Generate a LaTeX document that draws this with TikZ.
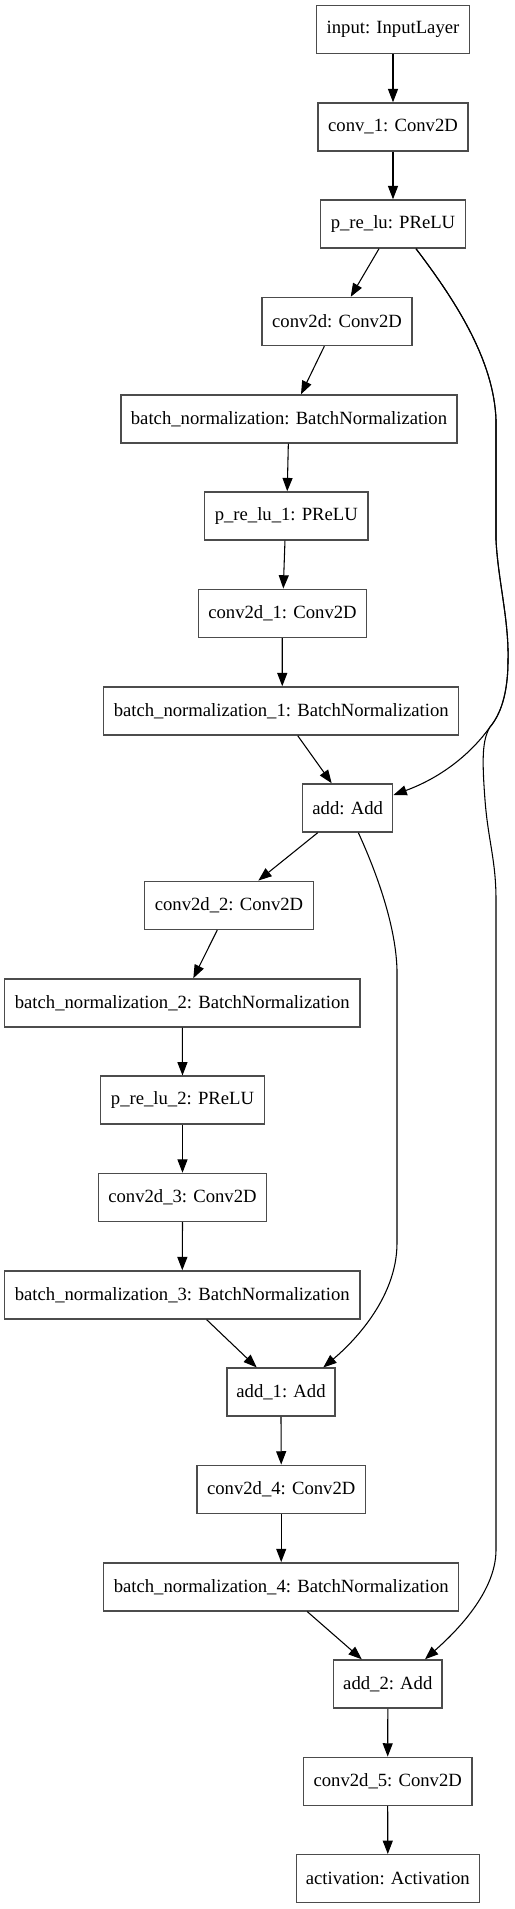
\documentclass[tikz,border=0pt]{standalone}
\usepackage{fontspec}
\setmainfont{Liberation Serif}
\usetikzlibrary{arrows.meta}
\begin{document}
\begin{tikzpicture}[x=0.75pt,y=-0.75pt,
  layer/.style={draw=black!70, line width=1.1pt, minimum height=36pt, inner xsep=4pt, inner ysep=0pt, fill=white, font=\fontsize{14pt}{16pt}\selectfont},
  conn/.style={draw=black, line width=0.8pt, -{Triangle[length=10pt,width=7.5pt]}}]
\useasboundingbox (0,0) rectangle (514,1909);
\node[layer, minimum width=114.5pt] (in) at (393,29.5) {input: InputLayer};
\node[layer, minimum width=112.3pt] (c1) at (393,127) {conv\_1: Conv2D};
\node[layer, minimum width=108.5pt] (pr) at (393,224) {p\_re\_lu: PReLU};
\node[layer, minimum width=112.3pt] (cd) at (337,321.5) {conv2d: Conv2D};
\node[layer, minimum width=252pt] (bn) at (289,419) {batch\_normalization: BatchNormalization};
\node[layer, minimum width=122.5pt] (pr1) at (286.3,516) {p\_re\_lu\_1: PReLU};
\node[layer, minimum width=126.3pt] (cd1) at (282.5,613.3) {conv2d\_1: Conv2D};
\node[layer, minimum width=266.3pt] (bn1) at (281.2,711) {batch\_normalization\_1: BatchNormalization};
\node[layer, minimum width=67.5pt] (ad) at (347.7,808) {add: Add};
\node[layer, minimum width=126.5pt] (cd2) at (229,905.3) {conv2d\_2: Conv2D};
\node[layer, minimum width=266.5pt] (bn2) at (182.3,1003) {batch\_normalization\_2: BatchNormalization};
\node[layer, minimum width=122.7pt] (pr2) at (182.5,1100.2) {p\_re\_lu\_2: PReLU};
\node[layer, minimum width=126.3pt] (cd3) at (182.5,1197.5) {conv2d\_3: Conv2D};
\node[layer, minimum width=266.5pt] (bn3) at (182.3,1295) {batch\_normalization\_3: BatchNormalization};
\node[layer, minimum width=81pt] (ad1) at (281,1392.2) {add\_1: Add};
\node[layer, minimum width=126.2pt] (cd4) at (281.2,1489.3) {conv2d\_4: Conv2D};
\node[layer, minimum width=266.3pt] (bn4) at (281.2,1586.8) {batch\_normalization\_4: BatchNormalization};
\node[layer, minimum width=81.2pt] (ad2) at (387.8,1684) {add\_2: Add};
\node[layer, minimum width=126.5pt] (cd5) at (387.7,1781.3) {conv2d\_5: Conv2D};
\node[layer, minimum width=137.3pt] (act) at (387.8,1878.7) {activation: Activation};

\draw[conn] (in.south) -- (c1.north);
\draw[conn] (c1.south) -- (pr.north);
\draw[conn] ([xshift=-10.5pt]pr.south) -- ([xshift=10.3pt]cd.north);
\draw[conn] ([xshift=-9.5pt]cd.south) -- ([xshift=9pt]bn.north);
\draw[conn] ([xshift=-0.5pt]bn.south) -- ([xshift=0.7pt]pr1.north);
\draw[conn] ([xshift=-1pt]pr1.south) -- ([xshift=0.6pt]cd1.north);
\draw[conn] ([xshift=-0.2pt]cd1.south) -- ([xshift=0.8pt]bn1.north);
\draw[conn] ([xshift=12.4pt]bn1.south) -- ([xshift=-12pt]ad.north);
\draw[conn] ([xshift=-22.5pt]ad.south) -- ([xshift=22pt]cd2.north);
\draw[conn] ([xshift=-8.8pt]cd2.south) -- ([xshift=8.25pt]bn2.north);
\draw[conn] (bn2.south) -- (pr2.north);
\draw[conn] (pr2.south) -- (cd3.north);
\draw[conn] (cd3.south) -- (bn3.north);
\draw[conn] ([xshift=18.3pt]bn3.south) -- ([xshift=-18.2pt]ad1.north);
\draw[conn] (ad1.south) -- (cd4.north);
\draw[conn] (cd4.south) -- (bn4.north);
\draw[conn] ([xshift=19.5pt]bn4.south) -- ([xshift=-19.5pt]ad2.north);
\draw[conn] (ad2.south) -- (cd5.north);
\draw[conn] (cd5.south) -- (act.north);

% skip p_re_lu -> add
\draw[conn] ([xshift=17.25pt]pr.south) .. controls (455,300) and (494,360) .. (496,420)
  -- (496,540) .. controls (498,580) and (509,620) .. (508,660)
  .. controls (508,695) and (500,715) .. (490,727)
  .. controls (470,755) and (440,778) .. ([yshift=9.75pt]ad.east);
% skip p_re_lu -> add_2
\draw[conn] ([xshift=17.25pt]pr.south) .. controls (455,300) and (494,360) .. (496,420)
  -- (496,540) .. controls (498,580) and (509,620) .. (508,660)
  .. controls (508,695) and (500,715) .. (490,727)
  .. controls (482,740) and (482,760) .. (485,800)
  .. controls (488,840) and (496,860) .. (496,900)
  -- (496,1550) .. controls (496,1595) and (450,1637) .. ([xshift=27.9pt]ad2.north);
% skip add -> add_1
\draw[conn] ([xshift=8pt]ad.south) .. controls (380,880) and (396,930) .. (397,970)
  -- (397,1243) .. controls (397,1300) and (350,1345) .. ([xshift=31.7pt]ad1.north);
\end{tikzpicture}
\end{document}
